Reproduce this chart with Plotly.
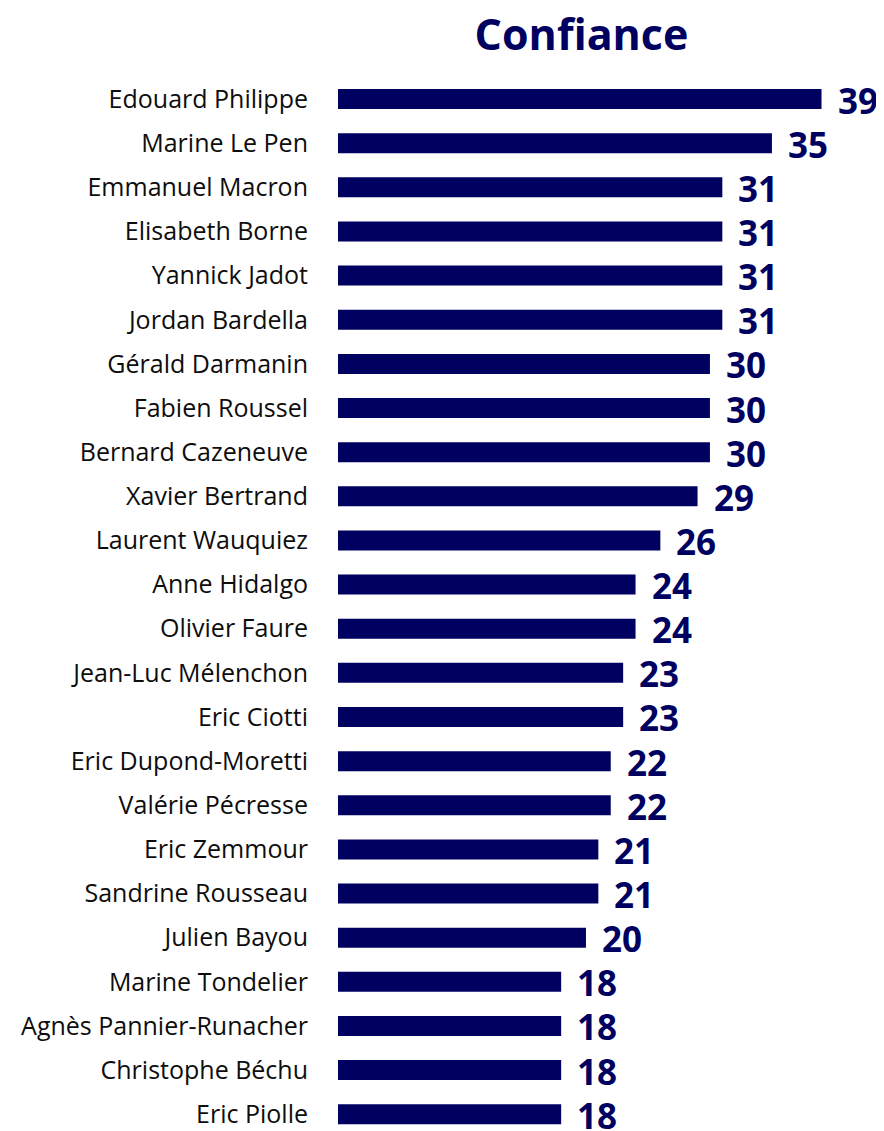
import plotly.graph_objects as go

names = ["Edouard Philippe", "Marine Le Pen", "Emmanuel Macron", "Elisabeth Borne",
         "Yannick Jadot", "Jordan Bardella", "Gérald Darmanin", "Fabien Roussel",
         "Bernard Cazeneuve", "Xavier Bertrand", "Laurent Wauquiez", "Anne Hidalgo",
         "Olivier Faure", "Jean-Luc Mélenchon", "Eric Ciotti", "Eric Dupond-Moretti",
         "Valérie Pécresse", "Eric Zemmour", "Sandrine Rousseau", "Julien Bayou",
         "Marine Tondelier", "Agnès Pannier-Runacher", "Christophe Béchu", "Eric Piolle"]
values = [39, 35, 31, 31, 31, 31, 30, 30, 30, 29, 26, 24, 24, 23, 23, 22, 22, 21, 21, 20,
          18, 18, 18, 18]
title = "Confiance"

NAVY = "#000060"
W, H = 876, 1123  # page adds an 8px body margin

fig = go.Figure(go.Bar(
    x=values, y=names, orientation="h",
    marker=dict(color=NAVY, line=dict(width=0)),
    width=0.453, hoverinfo="skip",
))

for n, v in zip(names, values):
    fig.add_annotation(x=v, y=n, text=str(v), showarrow=False, xanchor="left",
                       xshift=14, yshift=-1,
                       font=dict(family="Open Sans", size=35, color=NAVY, weight="bold"))

fig.update_layout(
    width=W, height=H,
    margin=dict(l=330, r=0, t=69, b=0),
    paper_bgcolor="white", plot_bgcolor="white",
    showlegend=False,
    title=dict(text=title, x=573.5 / W, xanchor="center", y=1 - 27 / H, yanchor="middle",
               font=dict(family="Open Sans", size=43, color=NAVY, weight="bold")),
    xaxis=dict(range=[0, 44.04], visible=False, fixedrange=True),
    yaxis=dict(categoryorder="array", categoryarray=names, autorange=False,
               range=[23.38, -0.5], showgrid=False, showline=False, ticks="",
               ticklabelstandoff=29,
               tickfont=dict(family="Open Sans", size=25, color="#0d0d0d")),
)

fig.write_html("out.html")
